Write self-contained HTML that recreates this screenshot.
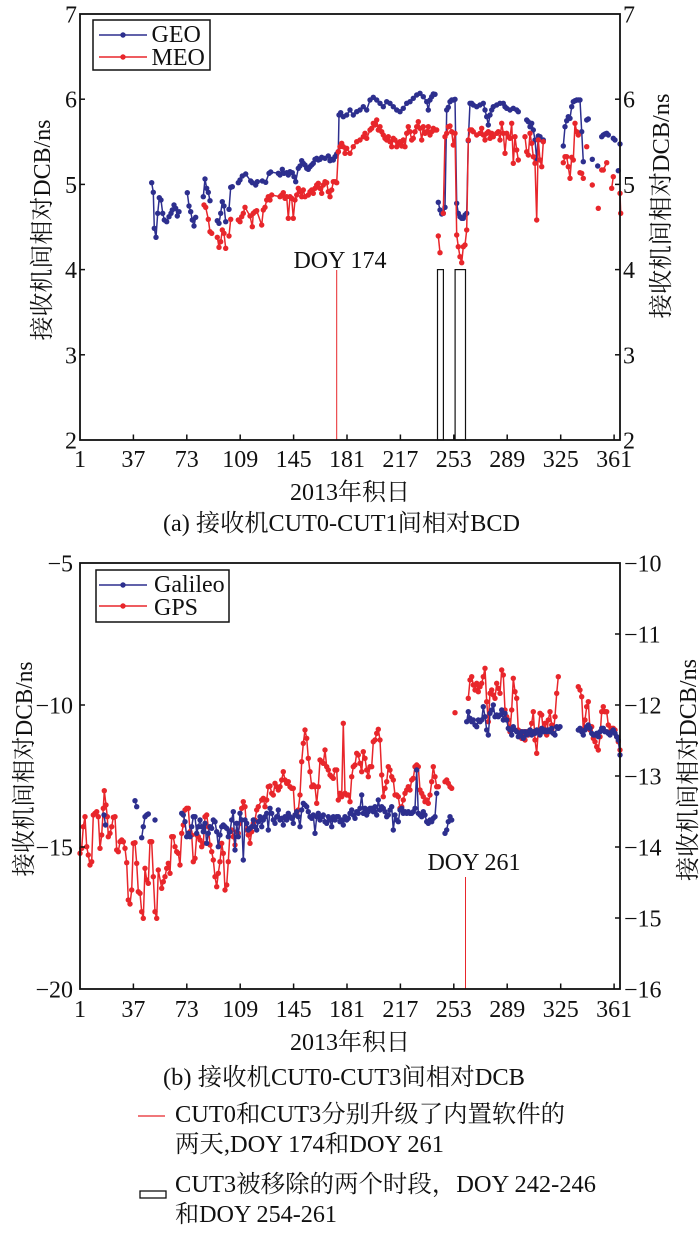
<!DOCTYPE html>
<html><head><meta charset="utf-8"><style>
html,body{margin:0;padding:0;background:#fff;}
svg{display:block;}
svg text{font-family:"Liberation Serif","Noto Serif CJK SC","Noto Sans CJK SC",serif;fill:#111;}
</style></head><body>
<svg width="700" height="1234" viewBox="0 0 700 1234" xmlns="http://www.w3.org/2000/svg" font-family="'Liberation Serif','Noto Serif CJK SC','Noto Sans CJK SC',serif">
<defs>
<marker id="mb" markerUnits="userSpaceOnUse" markerWidth="7" markerHeight="7" refX="3.5" refY="3.5"><circle cx="3.5" cy="3.5" r="2.7" fill="#2d2f8e"/></marker>
<marker id="mr" markerUnits="userSpaceOnUse" markerWidth="7" markerHeight="7" refX="3.5" refY="3.5"><circle cx="3.5" cy="3.5" r="2.7" fill="#e8262b"/></marker>
<style>
.b{fill:none;stroke:#2d2f8e;stroke-width:1.5;marker-start:url(#mb);marker-mid:url(#mb);marker-end:url(#mb);}
.r{fill:none;stroke:#e8262b;stroke-width:1.5;marker-start:url(#mr);marker-mid:url(#mr);marker-end:url(#mr);}
.bc{fill:#2d2f8e;}
.rc{fill:#e8262b;}
.ax{fill:none;stroke:#111;stroke-width:1.8;}
.tk{stroke:#111;stroke-width:1.5;}
</style>
</defs>
<rect width="700" height="1234" fill="#fff"/>

<!-- ============ TOP CHART ============ -->
<line x1="336.7" y1="270" x2="336.7" y2="440" stroke="#e8262b" stroke-width="1"/>
<rect x="437.5" y="269.6" width="5.9" height="170.4" fill="#fff" stroke="#111" stroke-width="1.2"/>
<rect x="455.1" y="269.6" width="10.4" height="170.4" fill="#fff" stroke="#111" stroke-width="1.2"/>
<text x="340" y="268" font-size="24" text-anchor="middle">DOY 174</text>

<!-- GEO -->
<polyline class="b" points="151.7,182.7 153.3,192.3 154.3,228.3 156,237.3 157.7,213.3 159.3,197.7 161,200 162.7,213.3 164.3,220 166.7,221.7 169,216.7 171,213.3 172.3,210 174,205 175.7,208.3 177.3,216 179,211.7"/>
<polyline class="b" points="187.3,192.7 189,206 190.7,211.7 192.3,220 194,226 195.7,217.3"/>
<polyline class="b" points="203.3,196.7 205,179 206.7,188.3 208.3,192.3 210,200.7"/>
<polyline class="b" points="217.3,220.7 219,223.3 220.7,213.3 222.3,201.7 224,206 225.7,221.7"/>
<polyline class="b" points="229,209.3 230.7,187.3 232.3,186.7"/>
<polyline class="b" points="238.3,182.7 240,180 242.3,176 245.7,174 250.7,181 252.3,182.7 255.7,185 257.3,181.7 262.3,181 265.7,182.3 269,173.3 270.7,172 278.3,173.3 280,175 282.3,169.3 284,173.3 286.7,172.7 288.3,175 290,171.7 292.3,172.7 294,176.7 295.7,181.7 298.3,168.3 300,166 301.7,160.7 303.3,163.3 305,165 306.7,168.3 308.3,169.3 310,166.7 311.7,165 313.3,163.3 315,159.3 316.7,158.3 318.3,160 320,159.3 321.7,157.3 325,158.3 328.3,156 330,160.7 331.7,159.3 333.3,160 335,156.7 336.7,154 338.3,151.7 339,115 340.7,112.7 343.3,116.7 346.7,115 350,110 353.3,115 356.7,111.7 360,110 363.3,106.7 366.7,110 370,100 373.3,97.3 376.7,100 380,103.3 383.3,106.7 386.7,101.7 390,103.3 393.3,106.7 396.7,110 400,111.7 403.3,108.3 406.7,103.3 410,101.7 413.3,98.3 416.7,95 420,93.3 423.3,96.7 426.7,101.7 428.3,110 430,100 431.7,96.7 433.3,94 435,94.3"/>
<polyline class="b" points="438.3,202.3 440,210 441.7,214 443.3,213.3 445,207.3 446.7,110 448.3,107.3 450,101.7 451.7,100 453.3,100 455,99.3 456.7,203.3 458.3,213.3 460,216.7 461.7,218.3 463.3,218.3 465,215 466.7,213.3 468.3,140.7 470,103.3 471.7,103.3 473.3,105 476.7,106.7 480,105 483.3,103.3 485,110 486.7,116.7 488.3,125 490,115 491.7,110 493.3,106.7 496.7,105 500,103.3 503.3,103.3 505,106.7 506.7,108.3 510,110 513.3,108.3 516.7,110 518.3,111.7"/>
<polyline class="b" points="526.7,120 528.3,121.7 530,126.7 531.7,123.3 533.3,130 535,140 536.7,160 538.3,136 540,136.7 541.7,140 543.3,140"/>
<polyline class="b" points="563.3,146 565,126.7 566.7,120.7 568.3,116.7 570,118.3 571.7,106.7 573.3,101.7 575,100.7 576.7,100 578.3,100 580,100 581.7,131.7 583.3,161.7"/>
<polyline class="b" points="586.7,120 588.3,119"/>
<circle class="bc" cx="592.3" cy="159.3" r="2.7"/>
<circle class="bc" cx="597.7" cy="166" r="2.7"/>
<polyline class="b" points="601.7,136.7 603.3,135 605,134 606.7,133.3 608.3,135"/>
<polyline class="b" points="613.3,138.3 615,140"/>
<circle class="bc" cx="618.3" cy="170.7" r="2.7"/>
<circle class="bc" cx="620" cy="144" r="2.7"/>

<!-- MEO -->
<polyline class="r" points="204,205 205.7,207.3 208.3,219.3 210,231.7 211.7,233.3"/>
<polyline class="r" points="217.3,237.3 219,247.3 220.7,241.7 222.3,230 224,233.3 225.7,248.3"/>
<polyline class="r" points="229,236 230.7,219.3"/>
<polyline class="r" points="238.3,220 240,221.7 241.7,216.7 243.3,213.3 245,207.3 250,216 252.3,226.7 253.3,213.3 255,211.7 256.7,210.7 261.7,225 263.3,210 265,207.3 266.7,200 268.3,196.7 270,200 271.7,195 280,196.7 281.7,195 283.3,192.7 285,198.3 286.7,196.7 288.3,218.3 290,196.7 291.7,198.3 293.3,218.3 295,200 296.7,195 298.3,188.3 300,191.7 301.7,196.7 303.3,190 305,196.7 308.3,195 310,191.7 311.7,190 313.3,193.3 315,188.3 316.7,185 318.3,183.3 320,188.3 321.7,193.3 323.3,185 325,181.7 326.7,182.7 328.3,191.7 330,196.7 331.7,190 333.3,181.7 335,181.7 336.7,182.7 338.3,151.7 340,146.7 341.7,143.3 343.3,146.7 345,153.3 346.7,148.3 350,153.3 353.3,146.7 356.7,141.7 360,140 363.3,136.7 365,133.3 366.7,138.3 370,130 371.7,128.3 373.3,123.3 375,125 376.7,120 378.3,130 380,126.7 381.7,131.7 383.3,135 385,138.3 386.7,140 388.3,136.7 390,141.7 391.7,146.7 393.3,138.3 395,140 396.7,146.7 398.3,143.3 400,141.7 401.7,146 403.3,140 405,146.7 406.7,133.3 408.3,126.7 410,131.7 411.7,140 413.3,138.3 415,131.7 416.7,126.7 418.3,121.7 420,128.3 421.7,140 423.3,126.7 425,133.3 426.7,131.7 428.3,126.7 430,135 431.7,131.7 433.3,128.3 435,130 436.7,130"/>
<polyline class="r" points="438.3,236 440,252.7"/>
<polyline class="r" points="443.3,213.3 445,136.7 446.7,133.3 448.3,126.7 450,126 451.7,131.7 453.3,145 455,133.3 456.7,235 458.3,246.7 460,256.7 461.7,262.7 463.3,246.7 465,245 466.7,230 468.3,140 470,130 471.7,130 473.3,131.7 476.7,135 480,133.3 481.7,128.3 483.3,135 485,140 486.7,133.3 488.3,131.7 490,138.3 491.7,133.3 493.3,136.7 496.7,133.3 498.3,131.7 500,140 501.7,123.3 503.3,133.3 505,153.3 506.7,133.3 508.3,136.7 510,138.3 511.7,123.3 513.3,163.3 515,136.7 516.7,150 518.3,160"/>
<polyline class="r" points="525,136.7 526.7,151.7 528.3,155 530,133.3 531.7,143.3 533.3,156.7 535,163.3 536.7,220 538.3,140 540,160 541.7,166.7 543.3,141.7"/>
<polyline class="r" points="563.3,162.7 565,156.7 566.7,156.7 568.3,166.7 570,178.3 571.7,157.3 573.3,160 575,123.3 576.7,131.7 578.3,135"/>
<polyline class="r" points="580,172.7 581.7,173.3 583.3,178.3"/>
<circle class="rc" cx="586.7" cy="146.7" r="2.7"/>
<circle class="rc" cx="592.3" cy="185" r="2.7"/>
<circle class="rc" cx="598.3" cy="208.3" r="2.7"/>
<polyline class="r" points="601.7,170 603.3,170 606.7,162.7"/>
<polyline class="r" points="611.7,188.3 613.3,176.7"/>
<polyline class="r" points="620,193.3 620.7,213.3"/>

<rect class="ax" x="80" y="14" width="540" height="426"/>
<g class="tk">
<line x1="80" y1="99.2" x2="85" y2="99.2"/><line x1="80" y1="184.4" x2="85" y2="184.4"/><line x1="80" y1="269.6" x2="85" y2="269.6"/><line x1="80" y1="354.8" x2="85" y2="354.8"/>
<line x1="620" y1="99.2" x2="615" y2="99.2"/><line x1="620" y1="184.4" x2="615" y2="184.4"/><line x1="620" y1="269.6" x2="615" y2="269.6"/><line x1="620" y1="354.8" x2="615" y2="354.8"/>
<line x1="133.4" y1="440" x2="133.4" y2="434.5"/><line x1="186.8" y1="440" x2="186.8" y2="434.5"/><line x1="240.2" y1="440" x2="240.2" y2="434.5"/><line x1="293.6" y1="440" x2="293.6" y2="434.5"/><line x1="347" y1="440" x2="347" y2="434.5"/><line x1="400.4" y1="440" x2="400.4" y2="434.5"/><line x1="453.8" y1="440" x2="453.8" y2="434.5"/><line x1="507.2" y1="440" x2="507.2" y2="434.5"/><line x1="560.7" y1="440" x2="560.7" y2="434.5"/><line x1="614.1" y1="440" x2="614.1" y2="434.5"/>
</g>
<g font-size="24" text-anchor="end">
<text x="77" y="22.5">7</text><text x="77" y="107.7">6</text><text x="77" y="192.9">5</text><text x="77" y="278.1">4</text><text x="77" y="363.3">3</text><text x="77" y="448.5">2</text>
</g>
<g font-size="24" text-anchor="start">
<text x="623" y="22.5">7</text><text x="623" y="107.7">6</text><text x="623" y="192.9">5</text><text x="623" y="278.1">4</text><text x="623" y="363.3">3</text><text x="623" y="448.5">2</text>
</g>
<g font-size="24" text-anchor="middle">
<text x="80" y="467">1</text><text x="133.4" y="467">37</text><text x="186.8" y="467">73</text><text x="240.2" y="467">109</text><text x="293.6" y="467">145</text><text x="347" y="467">181</text><text x="400.4" y="467">217</text><text x="453.8" y="467">253</text><text x="507.2" y="467">289</text><text x="560.7" y="467">325</text><text x="614.1" y="467">361</text>
</g>
<text x="350" y="500" font-size="24" text-anchor="middle">2013年积日</text>
<text x="163" y="531" font-size="24" textLength="357" lengthAdjust="spacingAndGlyphs">(a) 接收机CUT0-CUT1间相对BCD</text>
<text transform="translate(50,230) rotate(-90)" font-size="24" text-anchor="middle" textLength="221" lengthAdjust="spacingAndGlyphs">接收机间相对DCB/ns</text>
<text transform="translate(669,206) rotate(-90)" font-size="24" text-anchor="middle" textLength="225" lengthAdjust="spacingAndGlyphs">接收机间相对DCB/ns</text>

<rect x="93" y="20" width="117" height="50" fill="#fff" stroke="#111" stroke-width="1.5"/>
<line x1="99" y1="35" x2="147" y2="35" stroke="#2d2f8e" stroke-width="1.5"/><circle class="bc" cx="123" cy="35" r="2.7"/>
<line x1="99" y1="57" x2="147" y2="57" stroke="#e8262b" stroke-width="1.5"/><circle class="rc" cx="123" cy="57" r="2.7"/>
<text x="151.5" y="42" font-size="24">GEO</text>
<text x="151.5" y="65" font-size="24">MEO</text>

<!-- ============ BOTTOM CHART ============ -->
<line x1="465.5" y1="877" x2="465.5" y2="989" stroke="#e8262b" stroke-width="1"/>
<text x="474" y="870" font-size="24" text-anchor="middle">DOY 261</text>

<polyline class="r" points="80,853.3 81.7,848.3 83.3,826.7 85,816.7 86.7,846.7 88.3,855 90,865 91.7,861.7 93.3,815 95,813.3 96.7,811.7 98.3,816.7 100,848.3 101.7,835 103.3,808.3 104.3,790.7 106,805 107.3,816.7 108.3,836.7 110,833.3 111.7,826.7 113.3,817.3 115,816.7 116.7,850 118.3,851.7 120,841.7 121.7,840 123.3,841.7 125,848.3 126.7,862.7 128.3,900 130,904 131.7,890 133.3,843.3 135,842.7 136.7,863.3 138.3,891.7 140,893.3 141.7,911.7 143.3,918.3 145,868.3 146.7,880 148.3,883.3 150,841.7 151.7,841.7 153.3,876.7 155,911.7 156.7,918.3 158.3,870 161.7,888.3 163.3,881.7 165,876.7 166.7,868.3 168.3,863.3 170,873.3 171.7,836.7 173.3,836.7 175,846.7 176.7,851.7 178.3,853.3 180,865 181.7,833.3 183.3,825 185,810 186.7,808.3 188.3,808.3 190,831.7 191.7,835 193.3,861.7 195,858.3 196.7,835 198.3,836.7 200,840 201.7,846.7 203.3,843.3 205,816.7 206.7,815 208.3,826.7 210,845 211.7,851.7 213.3,860 215,876.7 216.7,886.7 218.3,873.3 220,861.7 221.7,843.3 223.3,853.3 225,890 226.7,885 228.3,861.7 230,831.7 231.7,830 233.3,836.7 235,845 236.7,831.7 238.3,833.3 240,823.3 241.7,808.3 243.3,801.7 245,806.7 246.7,830 248.3,835 250,843.3 251.7,831.7 253.3,823.3 255,820 256.7,810 258.3,806.7 261.7,800 263.3,798.3 265,806.7 266.7,800 268.3,786.7 270,786 271.7,793.3 273.3,795 275,783.3 276.7,786.7 278.3,790 280,786.7 281.7,780 283.3,771.7 285,780 286.7,783.3 288.3,781.7 290,786.7 291.7,788.3 293.3,788.3 295,815 296.7,813.3 298.3,810 300,795 301.7,761.7 303.3,743.3 305,730 306.7,738.3 308.3,758.3 310,771.7 311.7,786.7 313.3,785 315,786.7 316.7,803.3 318.3,786.7 320,760 321.7,761.7 323.3,763.3 325,750 326.7,766.7 328.3,770 330,775 331.7,776.7 333.3,778.3 335,770 336.7,770 338.3,800 340,793.3 341.7,796.7 343.3,723.3 345,793.3 346.7,795 348.3,795 350,801.7 351.7,776.7 353.3,766.7 355,765 356.7,753.3 358.3,755 360,763.3 361.7,771.7 363.3,751.7 365,758.3 366.7,770 368.3,776.7 370,766.7 371.7,766.7 373.3,741.7 375,740 376.7,733.3 378.3,729.3 380,740 381.7,775 383.3,796.7 385,788.3 386.7,781.7 388.3,766.7 390,770 391.7,776.7 393.3,780 395,795 396.7,795 398.3,796.7 400,808.3 401.7,806.7 403.3,800 405,793.3 406.7,790 408.3,786.7 410,790 411.7,780 413.3,778.3 415,766.7 416.7,765 418.3,766.7 420,790 421.7,793.3 423.3,796.7 425,801.7 426.7,800 428.3,803.3 430,795 431.7,781.7 433.3,766.7 435,776.7 436.7,786.7 438.3,786.7"/>
<polyline class="r" points="445,781.7 446.7,780 448.3,783.3 450,786.7 451.7,788.3"/>
<circle class="rc" cx="455" cy="712.7" r="2.7"/>
<polyline class="r" points="468.3,698.3 470,680 471.7,676.7 473.3,685 475,690 476.7,683.3 478.3,691.7 480,686.7 481.7,683.3 483.3,676.7 485,668.3 486.7,701.7 488.3,721.7 490,693.3 491.7,690 493.3,695 495,698.3 496.7,683.3 498.3,688.3 500,693.3 501.7,670 503.3,675 505,710 506.7,716.7 508.3,720 510,731.7 511.7,710 513.3,678.3 515,691.7 516.7,698.3 518.3,730 520,731.7 521.7,738.3 523.3,731.7 525,740 526.7,731.7 528.3,735 530,730 531.7,723.3 533.3,711.7 535,740 536.7,753.3 538.3,730 540,713.3 541.7,715 543.3,731.7 545,723.3 546.7,735 548.3,720 550,711.7 551.7,725 553.3,733.3 555,716.7 556.7,693.3 558.3,676.7"/>
<polyline class="r" points="578.3,686.7 580,690 581.7,696.7 583.3,730 585,720 586.7,706.7 588.3,701.7 590,730 591.7,726.7 593.3,738.3 595,741.7 596.7,746.7 598.3,750 600,736.7 601.7,711.7 603.3,706.7 605,711.7 606.7,711.7 608.3,725 610,731.7 611.7,728.3 613.3,728.3 615,730 616.7,736.7 618.3,741.7 620,750"/>

<polyline class="b" points="104,815 105.5,825"/>
<polyline class="b" points="135,800.7 136.7,806.7"/>
<polyline class="b" points="141.7,837.7 143.3,826.7 145,816.7 146.7,815 148.3,814"/>
<circle class="bc" cx="155" cy="820" r="2.7"/>
<polyline class="b" points="181.7,813.3 183.3,815 185,821.7 186.7,836.7 188.3,833.3 190,836.7 191.7,826.7 193.3,816.7 195,816.7 196.7,833.3 198.3,826.7 200,820 201.7,826.7 203.3,831.7 205,823.3 206.7,843.3 208.3,833.3 210,826.7 211.7,828.3 213.3,820 215,821.7 216.7,831.7 218.3,846.7 220,835 221.7,826.7 223.3,825 225,826.7 226.7,828.3 228.3,836.7 230,831.7 231.7,820 233.3,811.7 235,850 236.7,823.3 238.3,836.7 240,813.3 241.7,820 243.3,860 245,820 246.7,823.3 248.3,830 250,828.3 251.7,826.7 253.3,820 255,826.7 256.7,830 258.3,821.7 260,816.7 261.7,826.7 263.3,820 265,816.7 266.7,813.3 268.3,830 270,808.3 271.7,813.3 273.3,820 275,823.3 276.7,816.7 278.3,810 280,820 281.7,818.3 283.3,825 285,816.7 286.7,820 288.3,813.3 290,816.7 291.7,818.3 293.3,823.3 295,815 296.7,811.7 298.3,816.7 300,826.7 301.7,810 303.3,803.3 305,805 306.7,806.7 308.3,811.7 310,816.7 311.7,818.3 313.3,815 315,833.3 316.7,816.7 318.3,813.3 320,820 321.7,816.7 323.3,815 325,821.7 326.7,823.3 328.3,816.7 330,820 331.7,826.7 333.3,816.7 335,820 336.7,816.7 338.3,816.7 340,821.7 341.7,820 343.3,825 345,816.7 346.7,820 348.3,818.3 350,813.3 351.7,810 353.3,815 355,818.3 356.7,811.7 358.3,813.3 360,808.3 361.7,795 363.3,813.3 365,808.3 366.7,815 368.3,811.7 370,808.3 371.7,808.3 373.3,811.7 375,806.7 376.7,815 378.3,800 380,810 381.7,806.7 383.3,808.3 385,811.7 386.7,816.7 388.3,815 390,810 391.7,806.7 393.3,830 395,815 396.7,820 398.3,821.7 400,810 401.7,808.3 403.3,813.3 405,811.7 406.7,813.3 408.3,811.7 410,813.3 411.7,813.3 413.3,811.7 415,808.3 416.7,770 418.3,813.3 420,815 421.7,816.7 423.3,811.7 425,815 426.7,821.7 428.3,823.3 430,820 431.7,821.7 433.3,818.3 435,816.7 436.7,793.3"/>
<polyline class="b" points="445,833.3 446.7,830 448.3,821.7 450,816.7 451.7,820"/>
<polyline class="b" points="466.7,721.7 468.3,711.7 470,718.3 471.7,721.7 473.3,720 475,725 476.7,726.7 478.3,720 480,721.7 481.7,720 483.3,706.7 485,716.7 486.7,730 488.3,735 490,713.3 491.7,710 493.3,705 495,716.7 496.7,715 498.3,716.7 500,715 501.7,710 503.3,720 505,713.3 506.7,720 508.3,728.3 510,730 511.7,735 513.3,726.7 515,730 516.7,731.7 518.3,736.7 520,735 521.7,731.7 523.3,738.3 525,731.7 526.7,735 528.3,731.7 530,730 531.7,735 533.3,731.7 535,733.3 536.7,730 538.3,731.7 540,735 541.7,728.3 543.3,731.7 545,730 546.7,731.7 548.3,730 550,731.7 551.7,728.3 553.3,733.3 555,735 556.7,726.7 558.3,728.3 560,726.7"/>
<polyline class="b" points="578.3,730 580,728.3 581.7,731.7 583.3,735 585,730 586.7,726.7 588.3,725 590,728.3 591.7,733.3 593.3,735 595,735 596.7,733.3 598.3,736.7 600,731.7 601.7,728.3 603.3,728.3 605,731.7 606.7,731.7 608.3,733.3 610,735 611.7,731.7 613.3,730 615,733.3 616.7,736.7 618.3,740 620,755"/>

<rect class="ax" x="80" y="563" width="540" height="426"/>
<g class="tk">
<line x1="80" y1="705" x2="85" y2="705"/><line x1="80" y1="847" x2="85" y2="847"/>
<line x1="620" y1="634" x2="615" y2="634"/><line x1="620" y1="705" x2="615" y2="705"/><line x1="620" y1="776" x2="615" y2="776"/><line x1="620" y1="847" x2="615" y2="847"/><line x1="620" y1="918" x2="615" y2="918"/>
<line x1="133.4" y1="989" x2="133.4" y2="983.5"/><line x1="186.8" y1="989" x2="186.8" y2="983.5"/><line x1="240.2" y1="989" x2="240.2" y2="983.5"/><line x1="293.6" y1="989" x2="293.6" y2="983.5"/><line x1="347" y1="989" x2="347" y2="983.5"/><line x1="400.4" y1="989" x2="400.4" y2="983.5"/><line x1="453.8" y1="989" x2="453.8" y2="983.5"/><line x1="507.2" y1="989" x2="507.2" y2="983.5"/><line x1="560.7" y1="989" x2="560.7" y2="983.5"/><line x1="614.1" y1="989" x2="614.1" y2="983.5"/>
</g>
<g font-size="24" text-anchor="end">
<text x="73" y="571.5">−5</text><text x="73" y="713.5">−10</text><text x="73" y="855.5">−15</text><text x="73" y="997.5">−20</text>
</g>
<g font-size="24" text-anchor="start">
<text x="624" y="571.5">−10</text><text x="624" y="642.5">−11</text><text x="624" y="713.5">−12</text><text x="624" y="784.5">−13</text><text x="624" y="855.5">−14</text><text x="624" y="926.5">−15</text><text x="624" y="997.5">−16</text>
</g>
<g font-size="24" text-anchor="middle">
<text x="80" y="1017">1</text><text x="133.4" y="1017">37</text><text x="186.8" y="1017">73</text><text x="240.2" y="1017">109</text><text x="293.6" y="1017">145</text><text x="347" y="1017">181</text><text x="400.4" y="1017">217</text><text x="453.8" y="1017">253</text><text x="507.2" y="1017">289</text><text x="560.7" y="1017">325</text><text x="614.1" y="1017">361</text>
</g>
<text x="350" y="1050" font-size="24" text-anchor="middle">2013年积日</text>
<text x="163" y="1085" font-size="24" textLength="362" lengthAdjust="spacingAndGlyphs">(b) 接收机CUT0-CUT3间相对DCB</text>
<text transform="translate(32,769) rotate(-90)" font-size="24" text-anchor="middle" textLength="215" lengthAdjust="spacingAndGlyphs">接收机间相对DCB/ns</text>
<text transform="translate(696,770) rotate(-90)" font-size="24" text-anchor="middle" textLength="222" lengthAdjust="spacingAndGlyphs">接收机间相对DCB/ns</text>

<rect x="96" y="570" width="133" height="52" fill="#fff" stroke="#111" stroke-width="1.5"/>
<line x1="99" y1="585" x2="147" y2="585" stroke="#2d2f8e" stroke-width="1.5"/><circle class="bc" cx="123" cy="585" r="2.7"/>
<line x1="99" y1="606" x2="147" y2="606" stroke="#e8262b" stroke-width="1.5"/><circle class="rc" cx="123" cy="606" r="2.7"/>
<text x="154" y="592" font-size="24">Galileo</text>
<text x="154" y="615" font-size="24">GPS</text>

<line x1="138" y1="1116" x2="165" y2="1116" stroke="#e8262b" stroke-width="1.2"/>
<text x="175" y="1122" font-size="24" textLength="390" lengthAdjust="spacingAndGlyphs">CUT0和CUT3分别升级了内置软件的</text>
<text x="175" y="1152" font-size="24" textLength="269" lengthAdjust="spacingAndGlyphs">两天,DOY 174和DOY 261</text>
<rect x="140" y="1191" width="26" height="7" fill="#fff" stroke="#111" stroke-width="1.3"/>
<text x="175" y="1192" font-size="24" textLength="421" lengthAdjust="spacingAndGlyphs">CUT3被移除的两个时段，DOY 242-246</text>
<text x="175" y="1222" font-size="24" textLength="162" lengthAdjust="spacingAndGlyphs">和DOY 254-261</text>
</svg>
</body></html>
